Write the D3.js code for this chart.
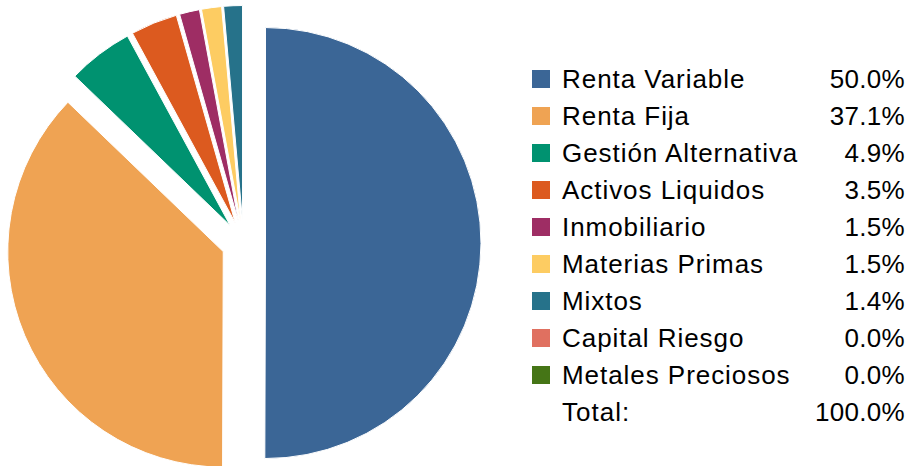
<!DOCTYPE html>
<html><head><meta charset="utf-8">
<script src="https://cdn.jsdelivr.net/npm/d3@7"></script>
<style>body{margin:0;background:#fff}svg{display:block}</style>
</head><body>
<svg id="c" width="912" height="466"></svg>
<script>
const categories = ["Renta Variable","Renta Fija","Gestión Alternativa","Activos Liquidos","Inmobiliario","Materias Primas","Mixtos","Capital Riesgo","Metales Preciosos"];
const values = [50.0,37.1,4.9,3.5,1.5,1.5,1.4,0.0,0.0];
const colors = ["#3b6696","#efa353","#009270","#dc5a1f","#9e2d64","#fdcc62","#26728a","#e07060","#457516"];
const totalLabel = "Total:";
const totalValue = "100.0%";

const svg = d3.select("#c");
const cx = 243.5, cy = 243, R = 215.5, explode = 22;
const pie = d3.pie().sort(null).value(d => d)(values);
const arc = d3.arc().innerRadius(0).outerRadius(R);
const g = svg.append("g").attr("transform", `translate(${cx},${cy})`);
g.selectAll("path").data(pie).join("path")
  .attr("d", arc)
  .attr("fill", (d,i) => colors[i])
  .attr("stroke", "#fff").attr("stroke-width", 1)
  .attr("transform", d => {
    const m = (d.startAngle + d.endAngle) / 2;
    return `translate(${Math.sin(m)*explode},${-Math.cos(m)*explode})`;
  });

const fmt = d3.format(".1f");
const y = d3.scaleLinear().domain([0,1]).range([88,125]);
const lg = svg.append("g").style("font-family","'Liberation Sans', Arial, sans-serif").style("font-size","26px").attr("fill","#000");
categories.forEach((c,i) => {
  lg.append("rect").attr("x",532).attr("y",y(i)-18).attr("width",18).attr("height",18).attr("fill",colors[i]);
  lg.append("text").attr("x",562).attr("y",y(i)).style("letter-spacing","0.95px").text(c);
  lg.append("text").attr("x",905).attr("y",y(i)).attr("text-anchor","end").style("letter-spacing","0.3px").text(fmt(values[i])+"%");
});
lg.append("text").attr("x",562).attr("y",y(categories.length)).style("letter-spacing","1px").text(totalLabel);
lg.append("text").attr("x",905).attr("y",y(categories.length)).attr("text-anchor","end").style("letter-spacing","0.3px").text(totalValue);
</script>
</body></html>
